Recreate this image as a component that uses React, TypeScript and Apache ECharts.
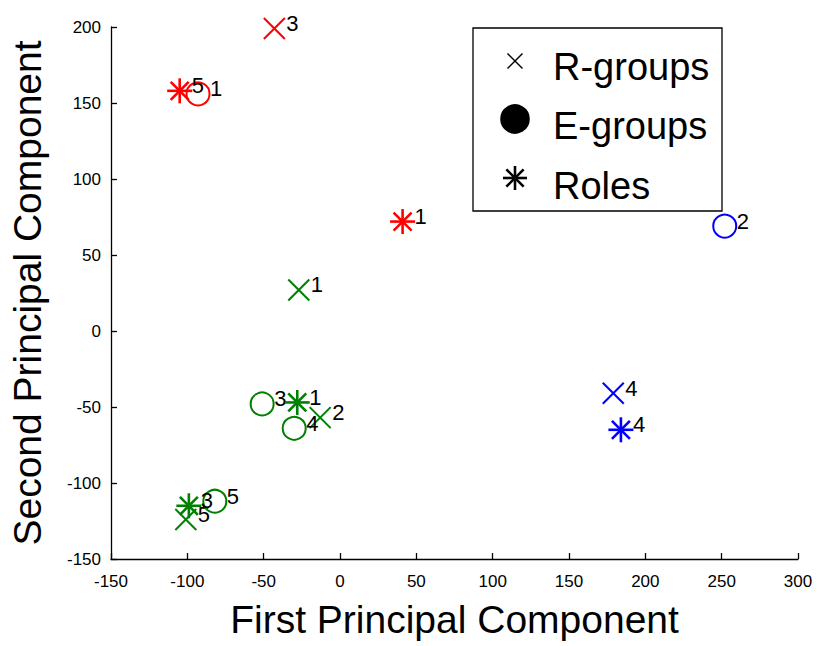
import React, { useEffect, useRef } from "react";
import * as echarts from "echarts";

// ---- data ----
const clusterColors = ["#ff0000", "#008000", "#0000ff"];

// R-groups (x markers)
const rGroupX = [-43, -27, -13, -101, 179];
const rGroupY = [199, 27, -57, -124, -41];
const rGroupLabels = ["3", "1", "2", "5", "4"];
const rGroupCluster = [0, 1, 1, 1, 2];

// E-groups (circles)
const eGroupX = [-93, -51, -30, -82, 252];
const eGroupY = [156, -48, -64, -112, 69];
const eGroupLabels = ["1", "3", "4", "5", "2"];
const eGroupCluster = [0, 1, 1, 1, 2];

// Roles (stars)
const roleX = [-105, 41, -28, -99, 184];
const roleY = [158, 72, -47, -115, -65];
const roleLabels = ["5", "1", "1", "3", "4"];
const roleCluster = [0, 0, 1, 1, 2];

const legendNames = ["R-groups", "E-groups", "Roles"];
const xTitle = "First Principal Component";
const yTitle = "Second Principal Component";

const FONT = '"Liberation Sans", Arial, Helvetica, sans-serif';

type Shape = "x" | "o" | "*";

function markerChildren(shape: Shape, cx: number, cy: number, color: string, size: number, lw: number, filled = false) {
  const st = { stroke: color, lineWidth: lw, fill: filled ? color : "none" };
  const h = size / 2;
  if (shape === "x") {
    return [
      { type: "line", shape: { x1: cx - h, y1: cy - h, x2: cx + h, y2: cy + h }, style: st },
      { type: "line", shape: { x1: cx - h, y1: cy + h, x2: cx + h, y2: cy - h }, style: st },
    ];
  }
  if (shape === "o") {
    return [{ type: "circle", shape: { cx, cy, r: h }, style: st }];
  }
  const d = h * 0.72;
  return [
    { type: "line", shape: { x1: cx - h, y1: cy, x2: cx + h, y2: cy }, style: st },
    { type: "line", shape: { x1: cx, y1: cy - h, x2: cx, y2: cy + h }, style: st },
    { type: "line", shape: { x1: cx - d, y1: cy - d, x2: cx + d, y2: cy + d }, style: st },
    { type: "line", shape: { x1: cx - d, y1: cy + d, x2: cx + d, y2: cy - d }, style: st },
  ];
}

function makeSeries(name: string, shape: Shape, xs: number[], ys: number[], labels: string[], clusters: number[]) {
  return {
    type: "custom",
    name,
    coordinateSystem: "cartesian2d",
    encode: { x: 0, y: 1 },
    clip: false,
    data: xs.map((x, i) => [x, ys[i]]),
    renderItem: (params: any, api: any) => {
      const i = params.dataIndex;
      const p = api.coord([api.value(0), api.value(1)]);
      const color = clusterColors[clusters[i]];
      const size = shape === "o" ? 23 : shape === "*" ? 25 : 21;
      const lw = shape === "*" ? 2.6 : 2;
      const children: any[] = markerChildren(shape, p[0], p[1], color, size, lw);
      children.push({
        type: "text",
        x: p[0] + 12,
        y: p[1] - 5,
        style: {
          text: labels[i],
          fill: "#000",
          fontSize: 22,
          fontFamily: FONT,
          align: "left",
          verticalAlign: "middle",
        },
      });
      return { type: "group", children };
    },
  };
}

export default function App() {
  const ref = useRef<HTMLDivElement>(null);
  useEffect(() => {
    if (!ref.current) return;
    const chart = echarts.init(ref.current, undefined, { renderer: "svg" });

    const legendX = 473, legendY = 28, legendW = 249, legendH = 183;
    const markerX = 515;
    const markerYs = [61, 119, 178];
    const textYs = [67, 126, 186];
    const legendShapes: Shape[] = ["x", "o", "*"];
    const legendSizes = [15, 27, 24];
    const legendChildren: any[] = [
      {
        type: "rect",
        shape: { x: legendX, y: legendY, width: legendW, height: legendH },
        style: { fill: "#fff", stroke: "#000", lineWidth: 1.3 },
      },
    ];
    legendNames.forEach((n, i) => {
      legendChildren.push(
        ...markerChildren(legendShapes[i], markerX, markerYs[i], "#000", legendSizes[i], i === 0 ? 1.5 : 2.6, i === 1)
      );
      legendChildren.push({
        type: "text",
        x: 553,
        y: textYs[i],
        style: { text: n, fill: "#000", fontSize: 38, fontFamily: FONT, align: "left", verticalAlign: "middle" },
      });
    });

    const axisCommon = {
      type: "value",
      interval: 50,
      axisLine: { show: true, onZero: false, lineStyle: { color: "#000", width: 1.3 } },
      axisTick: { show: true, inside: true, length: 6, lineStyle: { color: "#000", width: 1.3 } },
      splitLine: { show: false },
      nameLocation: "middle",
      nameTextStyle: { fontSize: 39, color: "#000", fontFamily: FONT },
    };

    chart.setOption({
      animation: false,
      backgroundColor: "#fff",
      grid: { left: 110, top: 27, right: 22, bottom: 87, containLabel: false },
      xAxis: {
        ...axisCommon,
        min: -150,
        max: 300,
        name: xTitle,
        nameGap: 41,
        axisLabel: { color: "#000", fontSize: 17, fontFamily: FONT, margin: 14 },
      },
      yAxis: {
        ...axisCommon,
        min: -150,
        max: 200,
        name: yTitle,
        nameGap: 64,
        axisLabel: { color: "#000", fontSize: 17, fontFamily: FONT, margin: 10 },
      },
      series: [
        makeSeries("R-groups", "x", rGroupX, rGroupY, rGroupLabels, rGroupCluster),
        makeSeries("E-groups", "o", eGroupX, eGroupY, eGroupLabels, eGroupCluster),
        makeSeries("Roles", "*", roleX, roleY, roleLabels, roleCluster),
      ],
      graphic: [{ type: "group", children: legendChildren, z: 100 }],
    });
    return () => chart.dispose();
  }, []);
  return <div ref={ref} style={{ position: "fixed", left: 0, top: 0, width: 820, height: 646 }} />;
}
